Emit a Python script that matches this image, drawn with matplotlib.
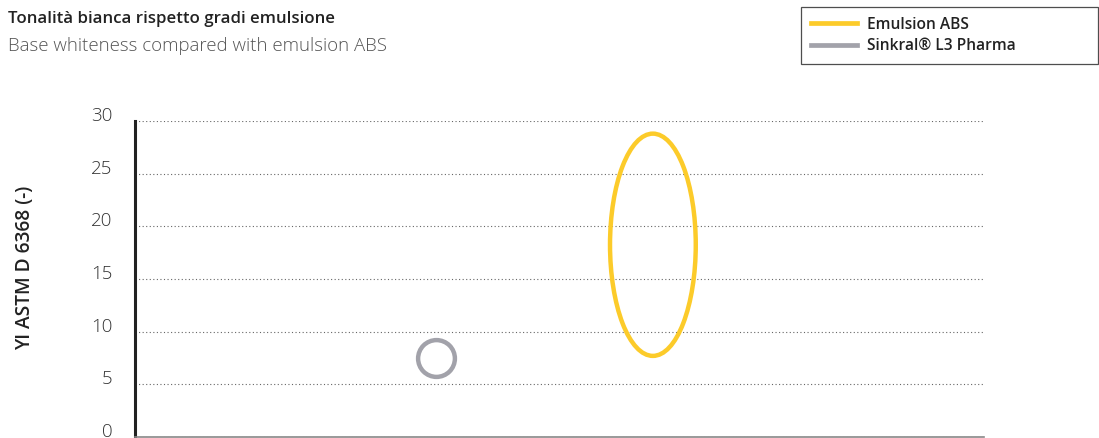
import numpy as np
import matplotlib
matplotlib.use("Agg")
import matplotlib.pyplot as plt
import matplotlib.transforms as mtransforms
from matplotlib.patches import Ellipse
from matplotlib.lines import Line2D

# data: YI range per product (low, high) and its slot on the x axis
products = ["Emulsion ABS", "Sinkral\u00ae L3 Pharma"]
x_pos = [6.1, 3.55]
yi_low = [7.7, 7.5]
yi_high = [28.8, 7.5]
colors = ["#FCCB2A", "#A2A2AA"]

y_ticks = [0, 5, 10, 15, 20, 25, 30]

plt.rcParams["font.family"] = ["Open Sans", "DejaVu Sans"]

fig = plt.figure(figsize=(10.99, 4.38), dpi=100)
ax = fig.add_axes([135 / 1099, 1 - 437 / 438, (984 - 135) / 1099, (437 - 121) / 438])
ax.set_xlim(0, 10)
ax.set_ylim(0, 30)
ax.set_yticks(y_ticks)
ax.set_xticks([])
ax.yaxis.grid(True, color="#666666", linestyle=(0, (1, 2.2)), linewidth=0.8)
ax.set_axisbelow(True)
for side in ("top", "right"):
    ax.spines[side].set_visible(False)
ax.spines["left"].set_linewidth(2.2)
ax.spines["left"].set_color("#222222")
ax.spines["bottom"].set_linewidth(1.2)
ax.spines["bottom"].set_color("#888888")
ax.tick_params(axis="y", length=0, pad=16, labelsize=13.5, labelcolor="#333333")
offset = mtransforms.ScaledTranslation(0, 5 / 72, fig.dpi_scale_trans)
for lbl in ax.get_yticklabels():
    lbl.set_fontweight("light")
    lbl.set_transform(lbl.get_transform() + offset)

ax.set_ylabel("YI ASTM D 6368 (-)", fontsize=13.8, fontweight="semibold",
              color="#222222")
ax.yaxis.set_label_coords(-100 / 849, 0.535)

# ranges drawn as ellipses, single values as rings
for x, lo, hi, c in zip(x_pos, yi_low, yi_high, colors):
    if hi > lo:
        ax.add_patch(Ellipse((x, (lo + hi) / 2), width=1.01, height=hi - lo,
                             fill=False, edgecolor=c, linewidth=3.2, zorder=3))
    else:
        ax.plot([x], [lo], marker="o", markersize=26.5, markerfacecolor="none",
                markeredgecolor=c, markeredgewidth=3.2, linestyle="none", zorder=3)

fig.text(8 / 1099, 1 - 23 / 438, "Tonalit\u00e0 bianca rispetto gradi emulsione",
         fontsize=12.2, fontweight="semibold", color="#222222", va="baseline")
fig.text(8 / 1099, 1 - 51 / 438, "Base whiteness compared with emulsion ABS",
         fontsize=13.4, fontweight="light", color="#555555", va="baseline")

handles = [Line2D([], [], color=c, linewidth=3.4) for c in colors]
leg = fig.legend(handles, products, loc="upper left", mode="expand",
                 bbox_to_anchor=(801 / 1099, 1 - 65 / 438, 297 / 1099, 58 / 438),
                 borderaxespad=0, fancybox=False, frameon=True,
                 handlelength=3.0, handletextpad=0.65, borderpad=0.62,
                 labelspacing=0.35, prop={"size": 11.2, "weight": "semibold"})
leg.get_frame().set_edgecolor("#222222")
leg.get_frame().set_linewidth(0.9)
for t in leg.get_texts():
    t.set_color("#222222")

fig.savefig("out.png", dpi=100)
